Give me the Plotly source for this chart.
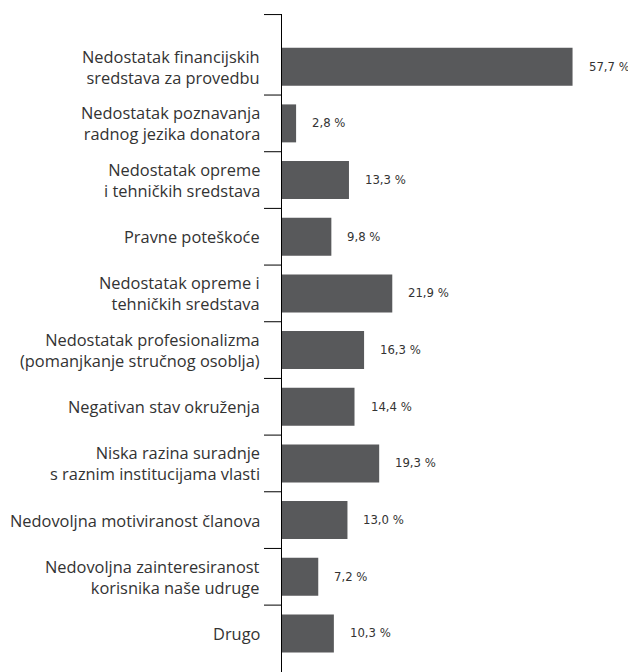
import plotly.graph_objects as go

categories = [
    "Nedostatak financijskih<br>sredstava za provedbu",
    "Nedostatak poznavanja<br>radnog jezika donatora",
    "Nedostatak opreme<br>i tehničkih sredstava",
    "Pravne poteškoće",
    "Nedostatak opreme i<br>tehničkih sredstava",
    "Nedostatak profesionalizma<br>(pomanjkanje stručnog osoblja)",
    "Negativan stav okruženja",
    "Niska razina suradnje<br>s raznim institucijama vlasti",
    "Nedovoljna motiviranost članova",
    "Nedovoljna zainteresiranost<br>korisnika naše udruge",
    "Drugo",
]
values = [57.7, 2.8, 13.3, 9.8, 21.9, 16.3, 14.4, 19.3, 13.0, 7.2, 10.3]

value_labels = [f"{v:.1f}".replace(".", ",") + " %" for v in values]
positions = list(range(len(categories)))

BAR_COLOR = "#58595b"
TEXT_COLOR = "#333333"
TICK_LEN = 18

fig = go.Figure()
fig.add_trace(go.Bar(
    x=values,
    y=positions,
    orientation="h",
    marker=dict(color=BAR_COLOR, line=dict(width=0)),
    width=0.67,
    hoverinfo="skip",
))

# value labels
for p, v, t in zip(positions, values, value_labels):
    fig.add_annotation(
        x=v, y=p, text=t, showarrow=False,
        xanchor="left", yanchor="middle", xshift=14,
        font=dict(family="DejaVu Sans", size=11.7, color=TEXT_COLOR),
    )

# category labels, right-aligned left of the axis
for p, c in zip(positions, categories):
    fig.add_annotation(
        xref="paper", x=0, y=p, text=c, showarrow=False,
        xanchor="right", yanchor="middle", align="right", xshift=-20,
        font=dict(family="Open Sans", size=16.4, color=TEXT_COLOR),
    )

n = len(categories)
yrange = [n - 1 + 0.68, -0.93]
boundary_ticks = [-0.92] + [i + 0.5 for i in range(n - 1)]

# axis ticks between categories: boundary values mapped through the y range
for b in boundary_ticks:
    yp = (b - yrange[0]) / (yrange[1] - yrange[0])
    fig.add_shape(
        type="line", xref="paper", yref="paper", layer="above",
        xsizemode="pixel", xanchor=0, x0=-TICK_LEN, x1=0,
        y0=yp, y1=yp, line=dict(color="black", width=1),
    )

fig.update_layout(
    width=628, height=664,
    margin=dict(l=274, r=0, t=6, b=0),
    paper_bgcolor="white", plot_bgcolor="white",
    showlegend=False,
    xaxis=dict(range=[0, 70.3], visible=False, fixedrange=True),
    yaxis=dict(
        type="linear",
        range=yrange,
        showticklabels=False, ticks="",
        showline=True, linecolor="black", linewidth=1,
        showgrid=False, zeroline=False, fixedrange=True,
    ),
)

fig.write_html("out.html")
